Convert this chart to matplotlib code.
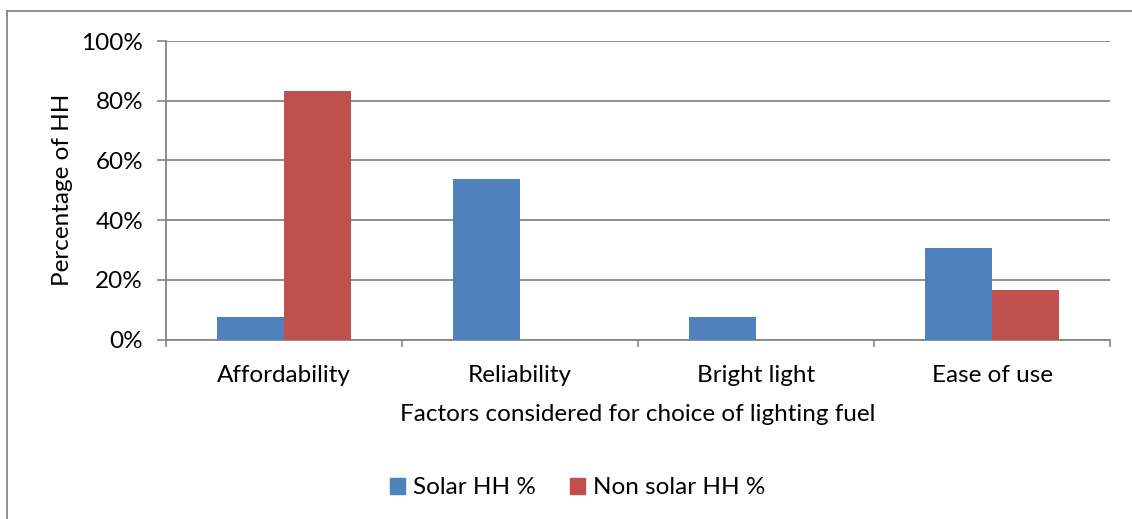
import matplotlib
matplotlib.use("Agg")
import matplotlib.pyplot as plt
from matplotlib.lines import Line2D
from matplotlib.patches import Patch
import numpy as np

categories = ["Affordability", "Reliability", "Bright light", "Ease of use"]
solar = [7.7, 53.8, 7.7, 30.8]
non_solar = [83.3, 0, 0, 16.7]
series_names = ["Solar HH %", "Non solar HH %"]
colors = ["#4F81BD", "#C0504D"]
yticks = [0, 20, 40, 60, 80, 100]

plt.rcParams['font.family'] = ['Lato', 'DejaVu Sans']
FS = 17.5
W, H = 1132, 519
fig = plt.figure(figsize=(W / 100, H / 100), dpi=100)
ax = fig.add_axes([166 / W, 1 - 339.5 / H, (1110 - 166) / W, (339.5 - 41) / H])

x = np.arange(len(categories))
bw = 1 / 3.5
ax.bar(x - bw / 2, solar, bw, color=colors[0], zorder=3)
ax.bar(x + bw / 2, non_solar, bw, color=colors[1], zorder=3)

ax.set_xlim(-0.5, len(categories) - 0.5)
ax.set_ylim(0, 100)
ax.set_yticks(yticks)
ax.set_yticklabels([f"{v}%" for v in yticks], fontsize=FS)
ax.set_xticks(np.arange(len(categories) + 1) - 0.5)
ax.set_xticklabels([])
ax.set_xticks(x, minor=True)
ax.set_xticklabels(categories, minor=True, fontsize=FS)
ax.tick_params(axis='x', which='minor', length=0, pad=18.5)
ax.tick_params(axis='x', which='major', length=5, color='#868686', width=1.2)
ax.tick_params(axis='y', length=6.5, color='#868686', width=1.2, pad=10)

ax.grid(axis='y', color='#868686', linewidth=1.3, zorder=0)
for s in ['top', 'right']:
    ax.spines[s].set_visible(False)
for s in ['left', 'bottom']:
    ax.spines[s].set_color('#868686')
    ax.spines[s].set_linewidth(1.3)

ax.set_ylabel("Percentage of HH", fontsize=FS, labelpad=6)
ax.set_xlabel("Factors considered for choice of lighting fuel", fontsize=FS, labelpad=13)

handles = [Patch(color=c) for c in colors]
fig.legend(handles, series_names, loc='center', bbox_to_anchor=(578 / W, 1 - 488 / H),
           ncol=2, frameon=False, fontsize=FS, handlelength=0.6, handleheight=0.6,
           handletextpad=0.35, columnspacing=1.4)

# outer chart border (top and left visible)
fig.add_artist(Line2D([7 / W, 1], [1 - 11 / H, 1 - 11 / H], color='#868686', lw=1.3))
fig.add_artist(Line2D([7 / W, 7 / W], [0, 1 - 11 / H], color='#868686', lw=1.3))

fig.savefig("out.png", dpi=100)
